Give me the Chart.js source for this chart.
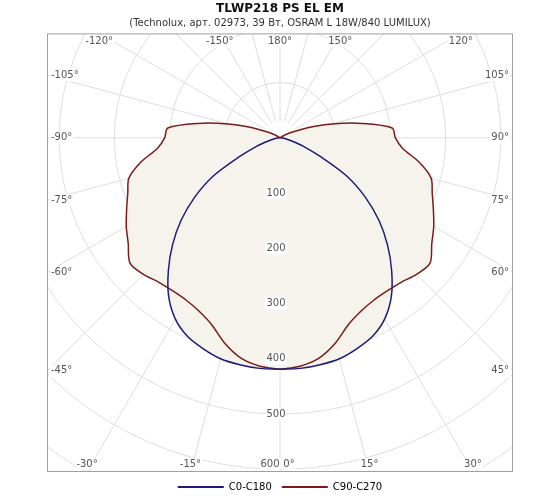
<!DOCTYPE html>
<html>
<head>
<meta charset="utf-8">
<script src="https://cdn.jsdelivr.net/npm/chart.js@4.4.1/dist/chart.umd.min.js"></script>
<style>
  body { margin: 0; background: #fff; }
  #wrap { width: 560px; height: 504px; }
</style>
</head>
<body>
<div id="wrap"><canvas id="polar"></canvas></div>
<script>
// polar angles (deg from nadir) and intensities (cd/klm)
const angles = [0, 5, 10, 15, 20, 25, 30, 35, 40, 45, 50, 55, 60, 65, 70, 75, 80, 85, 90, 95, 100, 105, 110, 115, 120, 125];
const c0c180 = [419, 419, 417, 414, 406, 396, 378, 350, 313, 274, 233, 188, 140, 80, 45, 22, 10, 4, 0, 0, 0, 0, 0, 0, 0, 0];
const c90c270 = [419, 415, 405, 385, 360, 346, 339, 338, 341, 349, 353, 334, 320, 305, 292, 282, 255, 222, 208, 203, 150, 97, 55, 25, 10, 0];
const ringValues = [100, 200, 300, 400, 500, 600];
const angleLabels = [180, -150, 150, -120, 120, -105, 105, -90, 90, -75, 75, -60, 60, -45, 45, -30, 30, -15, 15, 0];

const toXY = (vals) => {
    const pts = [];
    // left half (negative angles), going up
    for (let i = 0; i < angles.length; i++) {
        const a = angles[i] * Math.PI / 180;
        pts.push({ x: -vals[i] * Math.sin(a), y: -vals[i] * Math.cos(a) });
    }
    // right half, coming back down
    for (let i = angles.length - 1; i >= 0; i--) {
        const a = angles[i] * Math.PI / 180;
        pts.push({ x: vals[i] * Math.sin(a), y: -vals[i] * Math.cos(a) });
    }
    return pts;
};

const polarGrid = {
    id: "polarGrid",
    beforeDatasetsDraw(chart) {
        const { ctx, chartArea: ca, scales } = chart;
        const cx = scales.x.getPixelForValue(0);
        const cy = scales.y.getPixelForValue(0);
        const unit = Math.abs(scales.y.getPixelForValue(100) - cy) / 100;
        ctx.save();
        ctx.beginPath();
        ctx.rect(ca.left, ca.top, ca.right - ca.left, ca.bottom - ca.top);
        ctx.clip();
        ctx.strokeStyle = "#dedede";
        ctx.lineWidth = 1;
        for (let r = 100; r <= 900; r += 100) {
            ctx.beginPath();
            ctx.arc(cx, cy, r * unit, 0, Math.PI * 2);
            ctx.stroke();
        }
        for (let a = 0; a < 360; a += 15) {
            const t = a * Math.PI / 180;
            ctx.beginPath();
            ctx.moveTo(cx + Math.sin(t) * 30 * unit, cy + Math.cos(t) * 30 * unit);
            ctx.lineTo(cx + Math.sin(t) * 1000 * unit, cy + Math.cos(t) * 1000 * unit);
            ctx.stroke();
        }
        ctx.restore();
    },
    afterDatasetsDraw(chart) {
        const { ctx, chartArea: ca, scales } = chart;
        const cx = scales.x.getPixelForValue(0);
        const cy = scales.y.getPixelForValue(0);
        const unit = Math.abs(scales.y.getPixelForValue(100) - cy) / 100;
        ctx.save();
        ctx.font = "10px 'DejaVu Sans'";
        ctx.textAlign = "center";
        ctx.textBaseline = "middle";
        // angle labels where rays meet the frame
        angleLabels.forEach((deg) => {
            const t = deg * Math.PI / 180;
            const dx = Math.sin(t), dy = Math.cos(t);
            let s = Infinity;
            if (dx < -1e-9) s = Math.min(s, (ca.left - cx) / dx);
            if (dx > 1e-9) s = Math.min(s, (ca.right - cx) / dx);
            if (dy < -1e-9) s = Math.min(s, (ca.top - cy) / dy);
            if (dy > 1e-9) s = Math.min(s, (ca.bottom - cy) / dy);
            let x = cx + dx * s, y = cy + dy * s;
            const txt = deg + "°";
            const w = ctx.measureText(txt).width;
            x = Math.min(Math.max(x, ca.left + w / 2 + 4), ca.right - w / 2 - 4);
            y = Math.min(Math.max(y, ca.top + 8), ca.bottom - 8);
            if (deg === 0) x += 9;
            ctx.fillStyle = "#fff";
            ctx.fillRect(x - w / 2 - 1, y - 6, w + 2, 12);
            ctx.fillStyle = "#555";
            ctx.fillText(txt, x, y);
        });
        // ring values on the vertical axis
        ringValues.forEach((v) => {
            let y = Math.min(cy + v * unit, ca.bottom - 8);
            const x = v === 600 ? cx - 10 : cx - 4;
            const w = ctx.measureText(String(v)).width;
            ctx.fillStyle = "#fff";
            ctx.fillRect(x - w / 2 - 1, y - 6, w + 2, 12);
            ctx.fillStyle = "#555";
            ctx.fillText(String(v), x, y);
        });
        ctx.strokeStyle = "#a0a0a0";
        ctx.lineWidth = 1;
        ctx.strokeRect(ca.left + 0.5, ca.top + 0.5, ca.right - ca.left - 1, ca.bottom - ca.top - 1);
        ctx.restore();
    },
};

const fillColor = "#f6f3ec";
const lineDs = (label, vals, color, order) => ({
    label, data: toXY(vals), showLine: true, borderColor: color,
    borderWidth: 1.5, pointRadius: 0, fill: false, tension: 0.3, order,
});
const fillDs = (vals) => ({
    label: "", data: toXY(vals), showLine: true, borderWidth: 0,
    borderColor: "rgba(0,0,0,0)", backgroundColor: fillColor,
    pointRadius: 0, fill: "shape", tension: 0.3, order: 10,
});

new Chart(document.getElementById("polar"), {
    type: "scatter",
    data: {
        datasets: [
            lineDs("C0-C180", c0c180, "#1c1c78", 1),
            lineDs("C90-C270", c90c270, "#7a1c1c", 2),
            fillDs(c0c180),
            fillDs(c90c270),
        ],
    },
    options: {
        responsive: true,
        maintainAspectRatio: false,
        animation: false,
        layout: { padding: { left: 47, right: 47, top: 0, bottom: 2 } },
        scales: {
            x: { min: -420, max: 420, display: false },
            y: { min: -605, max: 189, display: false },
        },
        plugins: {
            title: {
                display: true,
                text: "TLWP218 PS EL EM",
                color: "#111",
                font: { family: "'DejaVu Sans'", size: 12, weight: "bold" },
                padding: { top: 2, bottom: 1 },
            },
            subtitle: {
                display: true,
                text: "(Technolux, арт. 02973, 39 Вт, OSRAM L 18W/840 LUMILUX)",
                color: "#333",
                font: { family: "'DejaVu Sans'", size: 10 },
                padding: { bottom: 4 },
            },
            legend: {
                position: "bottom",
                labels: {
                    color: "#333",
                    font: { family: "'DejaVu Sans'", size: 10 },
                    boxWidth: 46,
                    boxHeight: 2,
                    padding: 10,
                    generateLabels: (chart) =>
                        chart.data.datasets.slice(0, 2).map((ds, i) => ({
                            text: ds.label,
                            fillStyle: ds.borderColor,
                            strokeStyle: ds.borderColor,
                            lineWidth: 0,
                            datasetIndex: i,
                        })),
                },
            },
            tooltip: { enabled: false },
        },
    },
    plugins: [polarGrid],
});
</script>
</body>
</html>
